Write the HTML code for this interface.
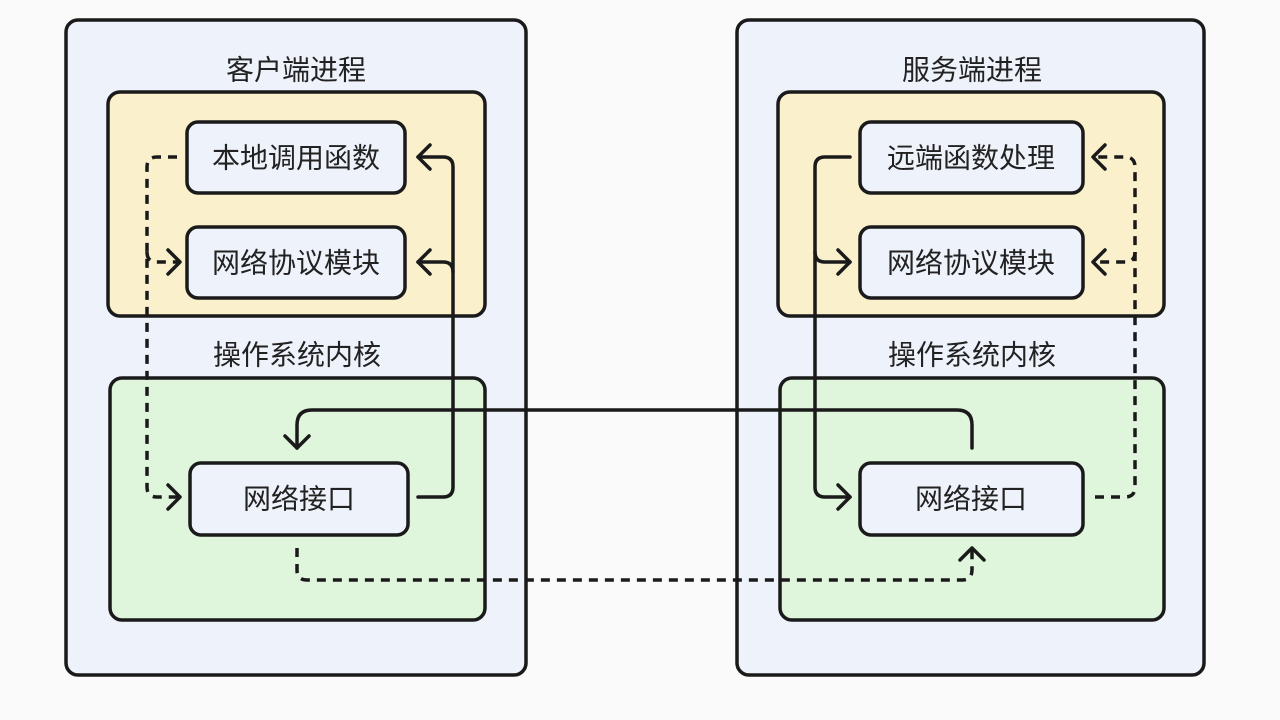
<!DOCTYPE html>
<html><head><meta charset="utf-8"><style>
html,body{margin:0;padding:0;background:#fafafa;}
svg{display:block;}
text{font-family:"Liberation Sans","Noto Sans CJK SC",sans-serif;fill:#222;text-anchor:middle;dominant-baseline:central;}
</style></head><body>
<svg width="1280" height="720" viewBox="0 0 1280 720" xmlns="http://www.w3.org/2000/svg">
<rect width="1280" height="720" fill="#fafafa"/>
<g stroke="#1a1a1a" stroke-width="3.5">
<rect x="66" y="20" width="460" height="655" rx="12" fill="#eef2fb"/>
<rect x="737" y="20" width="467" height="655" rx="12" fill="#eef2fb"/>
<rect x="108" y="92" width="377" height="224" rx="12" fill="#faf0cc"/>
<rect x="778" y="92" width="386" height="224" rx="12" fill="#faf0cc"/>
<rect x="110" y="378" width="375" height="242" rx="12" fill="#dff5dc"/>
<rect x="780" y="378" width="384" height="242" rx="12" fill="#dff5dc"/>
<rect x="187" y="122" width="218" height="71" rx="11" fill="#eef2fb"/>
<rect x="187" y="227" width="218" height="71" rx="11" fill="#eef2fb"/>
<rect x="190" y="463" width="218" height="72" rx="11" fill="#eef2fb"/>
<rect x="860" y="122" width="223" height="71" rx="11" fill="#eef2fb"/>
<rect x="860" y="227" width="223" height="71" rx="11" fill="#eef2fb"/>
<rect x="860" y="463" width="223" height="72" rx="11" fill="#eef2fb"/>
</g>
<g font-size="28">
<text x="296" y="70">客户端进程</text>
<text x="972" y="70">服务端进程</text>
<text x="297" y="355">操作系统内核</text>
<text x="972" y="355">操作系统内核</text>
<text x="296" y="158">本地调用函数</text>
<text x="296" y="263">网络协议模块</text>
<text x="299" y="499">网络接口</text>
<text x="971" y="158">远端函数处理</text>
<text x="971" y="263">网络协议模块</text>
<text x="971" y="499">网络接口</text>
</g>
<g fill="none" stroke="#1a1a1a" stroke-width="3.5" stroke-linecap="round" stroke-linejoin="round">
<!-- left solid up -->
<path d="M418 497 H443 Q453 497 453 487 V167 Q453 157 443 157 H418"/>
<path d="M453 272 Q453 262 443 262 H418"/>
<path d="M430 145 L418 157 L430 169 M430 250 L418 262 L430 274"/>
<!-- cross solid -->
<path d="M972 448 V425 Q972 410 957 410 H312 Q297 410 297 425 V448"/>
<path d="M285 436 L297 448 L309 436"/>
<!-- right solid -->
<path d="M850 157 H825 Q815 157 815 167 V487 Q815 497 825 497 H850"/>
<path d="M815 252 Q815 262 825 262 H850"/>
<path d="M838 485 L850 497 L838 509 M838 250 L850 262 L838 274"/>
<!-- arrows dashed heads -->
<path d="M168 250 L180 262 L168 274 M168 485 L180 497 L168 509"/>
<path d="M960 560 L972 548 L984 560"/>
<path d="M1105 145 L1093 157 L1105 169 M1105 250 L1093 262 L1105 274"/>
</g>
<g fill="none" stroke="#1a1a1a" stroke-width="3.5" stroke-dasharray="9 7" stroke-linejoin="round">
<path d="M177 157 H157 Q147 157 147 167 V487 Q147 497 157 497 H180"/>
<path d="M147 252 Q147 262 157 262 H180"/>
<path d="M297 548 V570 Q297 580 307 580 H962 Q972 580 972 570 V550"/>
<path d="M1095 497 H1125 Q1135 497 1135 487 V167 Q1135 157 1125 157 H1095"/>
<path d="M1135 252 Q1135 262 1125 262 H1095"/>
</g>
</svg>
</body></html>
